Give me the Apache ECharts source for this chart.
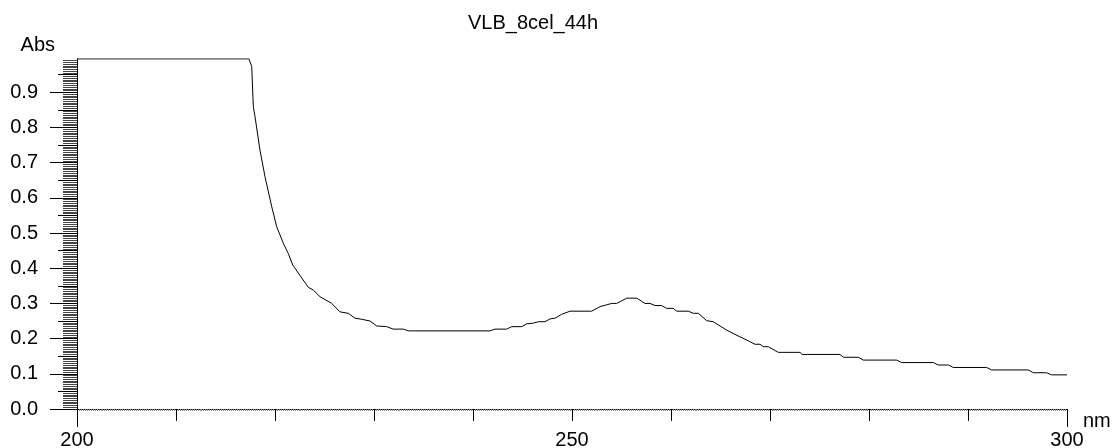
<!DOCTYPE html>
<html>
<head>
    <meta charset="utf-8">
    <title>VLB_8cel_44h</title>
    <script src="https://cdn.jsdelivr.net/npm/echarts@6/dist/echarts.min.js"></script>
</head>
<body style="margin:0;background:#fff;">
<div id="main" style="width:1112px;height:448px;"></div>
<script type="text/javascript">
// spectrum (nm, Abs)
var wavelength = [200, 217.37, 217.65, 217.81, 217.98, 218.48, 218.99, 219.67, 220.17, 220.84,
    221.34, 221.79, 223.36, 223.87, 224.55, 225.73, 226.57, 227.40, 228.08, 228.76,
    229.60, 230.27, 231.28, 231.95, 232.96, 233.46, 241.72, 242.22, 243.40, 243.91,
    244.92, 245.42, 246.09, 246.60, 247.27, 247.78, 248.28, 248.96, 249.80, 251.99,
    252.83, 253.50, 254.01, 254.51, 255.53, 256.54, 257.37, 257.88, 258.38, 259.06,
    259.56, 260.23, 260.58, 261.75, 262.25, 262.76, 263.61, 264.27, 265.63, 266.97,
    267.65, 268.48, 268.99, 269.32, 269.83, 270.84, 273.03, 273.26, 277.07, 277.40,
    278.92, 279.42, 282.80, 283.30, 286.50, 287.00, 288.01, 288.52, 291.89, 292.39,
    296.09, 296.60, 297.95, 298.45, 300];
var absorbance = [0.995, 0.995, 0.973, 0.859, 0.831, 0.736, 0.660, 0.575, 0.518, 0.471,
    0.442, 0.409, 0.346, 0.338, 0.319, 0.300, 0.276, 0.272, 0.258, 0.255,
    0.250, 0.236, 0.234, 0.227, 0.227, 0.222, 0.222, 0.227, 0.227, 0.234,
    0.234, 0.242, 0.244, 0.248, 0.248, 0.256, 0.258, 0.269, 0.278, 0.278,
    0.291, 0.296, 0.300, 0.300, 0.315, 0.315, 0.300, 0.300, 0.294, 0.294,
    0.286, 0.286, 0.278, 0.278, 0.272, 0.272, 0.251, 0.248, 0.224, 0.205,
    0.196, 0.184, 0.184, 0.177, 0.177, 0.161, 0.161, 0.155, 0.155, 0.147,
    0.147, 0.139, 0.139, 0.132, 0.132, 0.125, 0.125, 0.118, 0.118, 0.111,
    0.111, 0.103, 0.103, 0.097, 0.097];

var xLabels = [200, 250, 300];
var xLongTicks = [200, 300];
var yTicks = [0, 0.1, 0.2, 0.3, 0.4, 0.5, 0.6, 0.7, 0.8, 0.9];
var yHalfTicks = [0.05, 0.15, 0.25, 0.35, 0.45, 0.55, 0.65, 0.75, 0.85, 0.95];

var font = 'Liberation Sans, Arial, sans-serif';
var myChart = echarts.init(document.getElementById('main'));

myChart.setOption({
    animation: false,
    backgroundColor: '#fff',
    title: {
        text: 'VLB_8cel_44h',
        left: 468,
        top: 13,
        padding: 0,
        textStyle: { fontSize: 20, fontWeight: 'normal', color: '#000', fontFamily: font }
    },
    // x axis unit, placed beside the 300 label
    graphic: [{
        type: 'text',
        left: 1083,
        top: 411,
        style: { text: 'nm', fontSize: 20, fontFamily: font, fill: '#000' }
    }],
    grid: { left: 77, right: 45, top: 58.86, bottom: 39, outerBoundsMode: 'none', containLabel: false },
    xAxis: [{
        type: 'value',
        min: 200,
        max: 300,
        interval: 10,
        position: 'bottom',
        axisLine: { lineStyle: { color: '#000', width: 1 } },
        axisTick: { length: 12, lineStyle: { color: '#000' } },
        minorTick: { show: true, splitNumber: 50, length: 2, lineStyle: { color: '#888' } },
        axisLabel: { customValues: xLabels, fontSize: 20, color: '#000', fontFamily: font, margin: 21 },
        splitLine: { show: false }
    }, {
        type: 'value',
        min: 200,
        max: 300,
        position: 'bottom',
        axisLine: { show: false },
        axisTick: { customValues: xLongTicks, length: 18, lineStyle: { color: '#000' } },
        axisLabel: { show: false },
        splitLine: { show: false }
    }],
    yAxis: [{
        type: 'value',
        min: 0,
        max: 0.995,
        interval: 0.1,
        position: 'left',
        name: 'Abs',
        nameLocation: 'end',
        nameGap: 3,
        nameTextStyle: { fontSize: 20, color: '#000', fontFamily: font, align: 'right', verticalAlign: 'bottom', padding: [0, 22, 0, 0] },
        axisLine: { show: true, lineStyle: { color: '#000', width: 1 } },
        axisTick: { show: true, customValues: yTicks, length: 27, lineStyle: { color: '#000' } },
        minorTick: { show: true, splitNumber: 20, length: 14, lineStyle: { color: '#444' } },
        axisLabel: {
            customValues: yTicks,
            fontSize: 20, color: '#000', fontFamily: font, margin: 39,
            formatter: function (v) { return v.toFixed(1); }
        },
        splitLine: { show: false }
    }, {
        type: 'value',
        min: 0,
        max: 0.995,
        position: 'left',
        axisLine: { show: false },
        axisTick: { show: true, customValues: yHalfTicks, length: 19, lineStyle: { color: '#000' } },
        axisLabel: { show: false },
        splitLine: { show: false }
    }],
    series: [{
        type: 'line',
        xAxisIndex: 0,
        yAxisIndex: 0,
        symbol: 'none',
        lineStyle: { color: '#000', width: 1 },
        data: wavelength.map(function (w, i) { return [w, absorbance[i]]; })
    }]
});
</script>
</body>
</html>
